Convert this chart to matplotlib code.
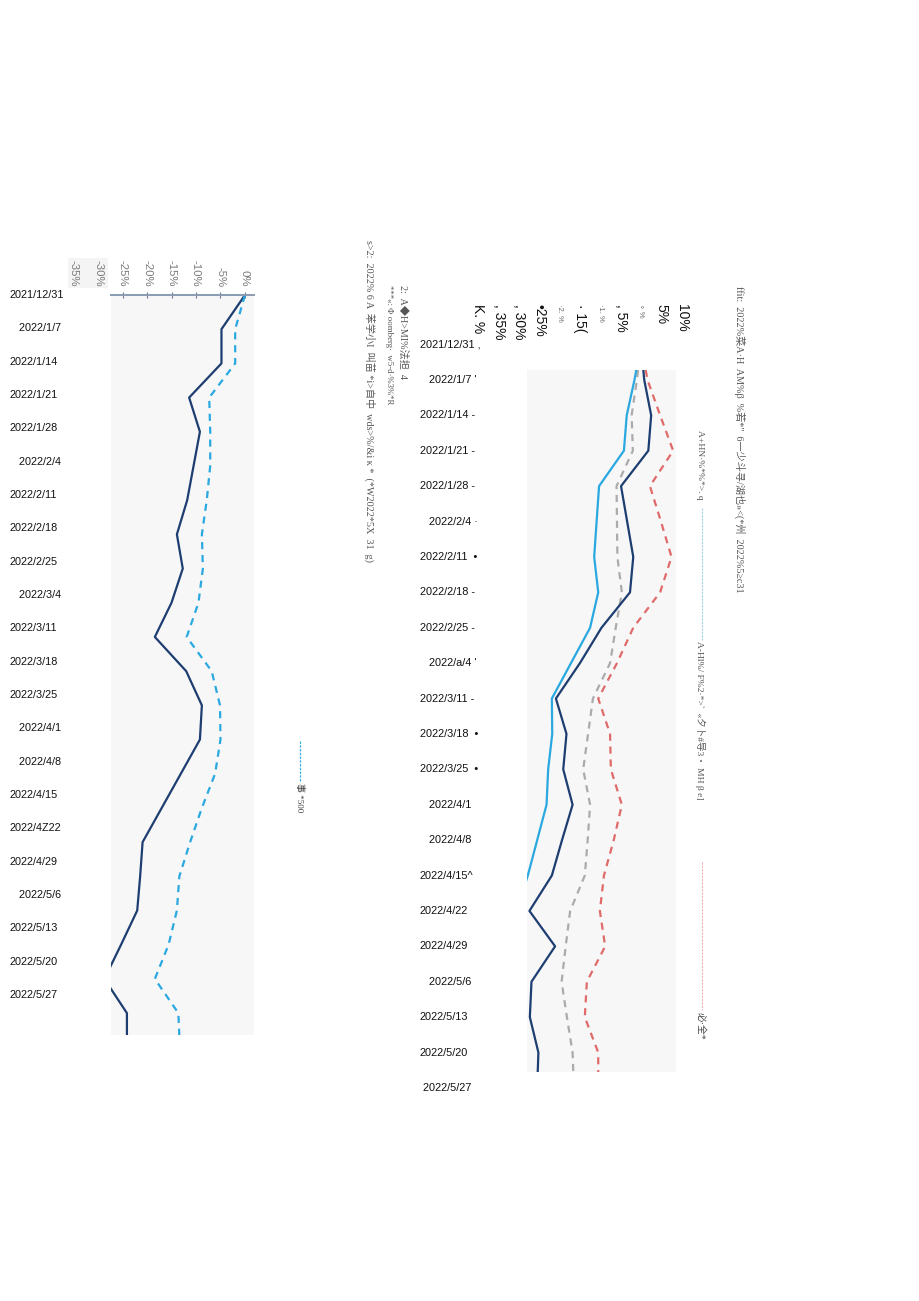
import numpy as np
import matplotlib
matplotlib.use('Agg')
import matplotlib.pyplot as plt
import matplotlib.transforms as mtrans
from matplotlib.lines import Line2D
from matplotlib.patches import Rectangle

plt.rcParams['font.family'] = ['Liberation Sans', 'Noto Sans CJK SC', 'DejaVu Sans']

# left chart: weekly returns (%), 2021/12/31 onwards
left_dates = ['2021/12/31', '   2022/1/7', '2022/1/14', '2022/1/21', '2022/1/28', '   2022/2/4',
              '2022/2/11', '2022/2/18', '2022/2/25', '   2022/3/4', '2022/3/11', '2022/3/18',
              '2022/3/25', '   2022/4/1', '   2022/4/8', '2022/4/15', '2022/4Z22', '2022/4/29',
              '   2022/5/6', '2022/5/13', '2022/5/20', '2022/5/27']
left_dark = [0, -4.8, -4.8, -11.4, -9.2, -10.5, -11.8, -13.9, -12.7, -15.0, -18.4, -12.0,
             -8.8, -9.2, -13.1, -17.0, -20.9, -21.4, -22.0, -25.3, -28.7, -24.1, -24.1]
left_blue = [0, -2.0, -2.0, -7.3, -7.1, -7.1, -7.8, -8.8, -8.6, -9.5, -11.9, -6.8,
             -5.1, -5.0, -6.1, -8.8, -11.2, -13.4, -13.9, -15.6, -18.4, -13.6, -13.3]
left_ticks = [-35, -30, -25, -20, -15, -10, -5, 0]

# right chart
right_dates = ['2021/12/31 ,', '   2022/1/7 \'', '2022/1/14 -', '2022/1/21 -', '2022/1/28 -',
               '   2022/2/4 ·', '2022/2/11  •', '2022/2/18 -', '2022/2/25 -', '   2022/a/4 \'',
               '2022/3/11 -', '2022/3/18  •', '2022/3/25  •', '   2022/4/1', '   2022/4/8',
               '2022/4/15^', '2022/4/22', '2022/4/29', '   2022/5/6', '2022/5/13', '2022/5/20',
               ' 2022/5/27']
right_dark = [0, 0.8, 2.5, 1.8, -4.9, -3.4, -1.9, -2.7, -9.7, -15.0, -20.9, -18.3,
              -19.1, -16.8, -19.4, -21.9, -27.4, -21.1, -26.9, -27.3, -25.2, -25.5]
right_blue = [0, -1.6, -3.5, -4.2, -10.3, -10.9, -11.5, -10.5, -12.5, -17.2, -21.9, -21.8,
              -22.8, -23.2, -25.5, -27.8, -30.5, -29.5, -31.5, -32.0, -30.8, -31.2]
right_gray = [0, -1.0, -2.3, -2.0, -6.0, -5.9, -5.8, -4.7, -6.2, -7.6, -11.8, -13.0,
              -14.2, -12.5, -13.1, -13.8, -17.4, -18.5, -19.5, -18.2, -16.8, -16.5]
right_red = [0, 1.6, 4.7, 7.9, 2.2, 4.9, 7.5, 4.7, -1.9, -5.9, -10.5, -7.6,
             -7.4, -4.7, -6.7, -9.1, -10.1, -8.8, -13.3, -13.8, -10.5, -10.5]
right_ticks = [10, 5, 0, -5, -10, -15, -20, -25, -30, -35, -40]
right_ticklabels = ['10%', '5%', '∘ %', ', 5%', '·1. %', '· 15(', '·2. %', '•25%', ', 30%', ', 35%', 'K. %']
right_tickbig = [True, True, False, True, False, True, False, True, True, True, True]

W, H = 920, 1301
fig = plt.figure(figsize=(W / 100, H / 100), dpi=100)
fig.patch.set_facecolor('white')


def fbox(x0, y0, x1, y1):
    return [x0 / W, 1 - y1 / H, (x1 - x0) / W, (y1 - y0) / H]


NAVY = '#1e3d70'
BLUE = '#2aa8e0'
GRAY = '#ababab'
RED = '#e06a6a'
BG = '#f7f7f7'

# ---------------- left chart ----------------
ax1 = fig.add_axes(fbox(111, 295, 254, 1035))
ax1.set_facecolor(BG)
ax1.plot(left_dark, np.arange(len(left_dark)), color=NAVY, lw=1.6)
ax1.plot(left_blue, np.arange(len(left_blue)), color=BLUE, lw=1.6, dashes=(3.2, 2.6))
ax1.set_xlim(-27.35, 1.84)
ax1.set_ylim(21.64, 0)
for s in ['left', 'right', 'bottom']:
    ax1.spines[s].set_visible(False)
ax1.spines['top'].set_color('#8a9bb0')
ax1.spines['top'].set_linewidth(1.4)
ax1.xaxis.set_ticks_position('top')
ax1.set_xticks([t for t in left_ticks if t >= -25])
ax1.tick_params(axis='x', direction='inout', length=5, color='#6b7b8f', labeltop=False)
ax1.set_yticks([])

tr1 = mtrans.blended_transform_factory(ax1.transData, ax1.transAxes)
# faint box behind the two labels that sit outside the plot
fig.add_artist(Rectangle((68 / W, 1 - 288 / H), 40 / W, 30 / H, transform=fig.transFigure,
                         facecolor='#f4f4f4', edgecolor='none', zorder=-1))
for t in left_ticks:
    ax1.text(t, 1.011, f'{t}%', transform=tr1, rotation=270, ha='center', va='bottom',
             fontsize=8.2, color='#7a7a7a', clip_on=False)

label_step = 33.33 / 34.2
trl = mtrans.blended_transform_factory(fig.transFigure, ax1.transData)
for i, d in enumerate(left_dates):
    ax1.text(10 / W, i * label_step, d, transform=trl, ha='left', va='center',
             fontsize=7.8, color='#111111', clip_on=False)

# ---------------- right chart ----------------
ax2 = fig.add_axes(fbox(527, 370, 676, 1072))
ax2.set_facecolor(BG)
yy = np.arange(len(right_dark))
ax2.plot(right_gray, yy, color=GRAY, lw=1.6, dashes=(3.2, 2.6))
ax2.plot(right_red, yy, color=RED, lw=1.6, dashes=(3.2, 2.6))
ax2.plot(right_blue, yy, color=BLUE, lw=1.6)
ax2.plot(right_dark, yy, color=NAVY, lw=1.6)
ax2.set_xlim(-28.0, 8.6)
ax2.set_ylim(20.55, 0.72)
for s in ax2.spines.values():
    s.set_visible(False)
ax2.set_xticks([])
ax2.set_yticks([])

tr2 = mtrans.blended_transform_factory(ax2.transData, fig.transFigure)
for t, lab, big in zip(right_ticks, right_ticklabels, right_tickbig):
    ax2.text(t, 1 - 304 / H, lab, transform=tr2, rotation=270, ha='center', va='top',
             fontsize=10 if big else 5.5, color='#111111' if big else '#666666', clip_on=False)

trr = mtrans.blended_transform_factory(fig.transFigure, ax2.transData)
for i, d in enumerate(right_dates):
    ax2.text(420 / W, i, d, transform=trr, ha='left', va='center',
             fontsize=7.9, color='#111111', clip_on=False)

# ---------------- rotated notes ----------------
serif = ['Liberation Serif', 'Noto Sans CJK SC', 'DejaVu Sans']


def vtext(x, y, s, size=7.2, color='#555555', fam=serif):
    fig.text(x / W, 1 - y / H, s, rotation=270, ha='center', va='top',
             fontsize=size, color=color, family=fam)


vtext(370, 240, 's>2:  2022% 6 A  苯学小I  叫苗 *i>自中  wds>%/&i κ *  (*W2022*5X  31  g)', size=7.3)
vtext(403, 285, '2:  A◆H>MI%法担  4', size=7.3)
vtext(389, 285, '***«: Φ oomberg·  w5-d·%3%*R', size=6.3)
vtext(740, 286, 'ffit:  2022%菜A·H  AM%β  %若*"  6一少斗寻/湖也»<(*州  2022%5≥c31', size=7.3)
vtext(700, 430, 'A+HN·%*%*>. q', size=6.8)
vtext(700, 641, 'A-Hl%/ F%2·*>`  «夕卜#导3・ MH β e]', size=6.8)
vtext(700, 1012, '必·全*', size=7.0, color='#444444')
vtext(300, 783, '事 *500', size=6.5, color='#444444')

fig.add_artist(Line2D([702 / W, 702 / W], [1 - 508 / H, 1 - 640 / H], transform=fig.transFigure,
                      color='#9fd2ea', lw=0.8, dashes=(2, 1)))
fig.add_artist(Line2D([702 / W, 702 / W], [1 - 862 / H, 1 - 1010 / H], transform=fig.transFigure,
                      color='#f0b0b0', lw=0.8, dashes=(2, 1)))
fig.add_artist(Line2D([300 / W, 300 / W], [1 - 741 / H, 1 - 782 / H], transform=fig.transFigure,
                      color='#3ab0e6', lw=0.9, dashes=(2, 1)))

fig.savefig('out.png', dpi=100, facecolor='white')
